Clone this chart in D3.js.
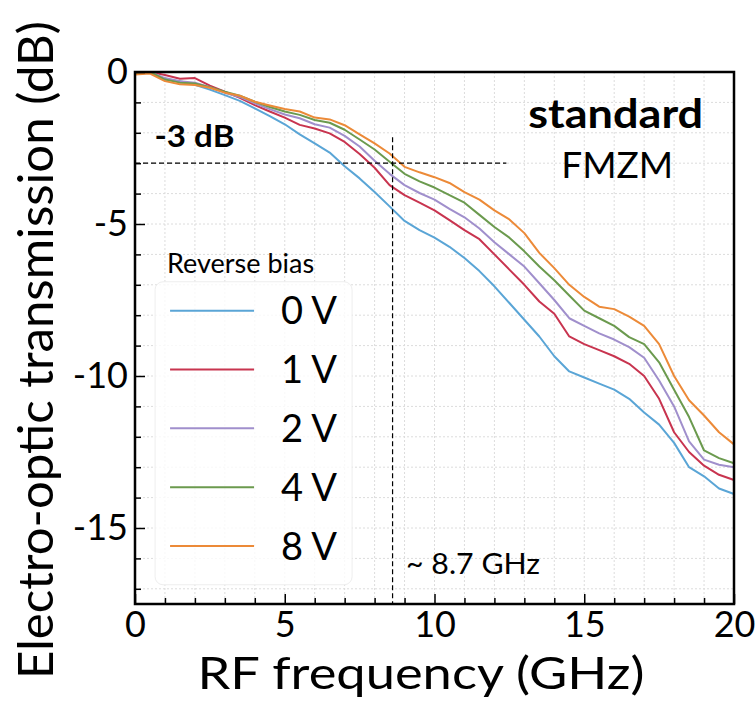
<!DOCTYPE html>
<html lang="en">
<head>
    <meta charset="UTF-8">
    <title>Electro-optic transmission</title>
    <script src="https://cdnjs.cloudflare.com/ajax/libs/d3/7.8.2/d3.min.js"></script>
    <style>
        body { margin: 0; background: #fff; }
        #chart { font-family: Lato, "Open Sans", sans-serif; }
    </style>
</head>
<body>
    <div id="chart"></div>

    <script>
        // RF frequency (GHz)
        const freq = [0, 0.5, 1, 1.5, 2, 2.5, 3, 3.5, 4, 4.5, 5, 5.5, 6, 6.5, 7, 7.5, 8, 8.5, 9, 9.5,
            10, 10.5, 11, 11.5, 12, 12.5, 13, 13.5, 14, 14.5, 15, 15.5, 16, 16.5, 17, 17.5, 18, 18.5, 19, 19.5, 20];

        // transmission (dB) per reverse bias
        const bias0V = [-0.05, 0, -0.25, -0.3, -0.42, -0.58, -0.76, -0.95, -1.2, -1.45, -1.72, -2.05, -2.35, -2.65, -3.1, -3.5, -3.95, -4.42, -4.9, -5.2,
            -5.45, -5.75, -6.12, -6.55, -7.05, -7.6, -8.15, -8.7, -9.35, -9.85, -10.05, -10.25, -10.45, -10.75, -11.2, -11.6, -12.2, -13.0, -13.3, -13.7, -13.88];
        const bias1V = [-0.05, 0, -0.1, -0.22, -0.2, -0.45, -0.65, -0.85, -1.09, -1.3, -1.5, -1.74, -1.86, -2.02, -2.3, -2.7, -3.15, -3.72, -4.05, -4.3,
            -4.55, -4.87, -5.2, -5.5, -6.0, -6.5, -7.0, -7.55, -7.95, -8.7, -8.95, -9.15, -9.35, -9.6, -10.0, -10.75, -11.85, -12.5, -12.95, -13.25, -13.42];
        const bias2V = [-0.05, 0, -0.2, -0.3, -0.35, -0.5, -0.68, -0.82, -1.03, -1.22, -1.4, -1.52, -1.72, -1.83, -2.1, -2.45, -2.92, -3.35, -3.72, -3.98,
            -4.2, -4.5, -4.78, -5.15, -5.6, -6.0, -6.4, -6.95, -7.5, -8.1, -8.35, -8.6, -8.8, -9.05, -9.4, -10.15, -11.0, -12.15, -12.75, -12.92, -13.0];
        const bias4V = [-0.05, 0, -0.25, -0.35, -0.38, -0.5, -0.65, -0.78, -0.98, -1.15, -1.3, -1.41, -1.58, -1.67, -1.9, -2.22, -2.55, -2.95, -3.35, -3.6,
            -3.8, -4.05, -4.3, -4.7, -5.1, -5.45, -5.9, -6.4, -6.85, -7.35, -7.85, -8.1, -8.35, -8.72, -8.95, -9.55, -10.45, -11.35, -12.45, -12.7, -12.87];
        const bias8V = [-0.08, -0.05, -0.3, -0.4, -0.43, -0.52, -0.68, -0.78, -0.98, -1.1, -1.22, -1.3, -1.5, -1.56, -1.75, -2.05, -2.35, -2.68, -3.12, -3.3,
            -3.46, -3.65, -3.95, -4.2, -4.55, -4.85, -5.3, -5.95, -6.45, -7.0, -7.4, -7.72, -7.8, -8.05, -8.35, -8.95, -10.0, -10.8, -11.3, -11.85, -12.25];

        const seriesNames = ["0 V", "1 V", "2 V", "4 V", "8 V"];
        const seriesValues = [bias0V, bias1V, bias2V, bias4V, bias8V];
        const seriesColors = ["#5aa5d6", "#c8344f", "#a08fcc", "#6b9a4e", "#ec8a38"];

        const xTicks = [0, 5, 10, 15, 20];
        const yTicks = [0, -5, -10, -15];
        const cutoffFreq = 8.6;

        const width = 756, height = 701;
        const margin = { top: 72, right: 22, bottom: 97, left: 135 };
        const w = width - margin.left - margin.right;
        const h = height - margin.top - margin.bottom;

        const svg = d3.select("#chart").append("svg")
            .attr("width", width)
            .attr("height", height);

        const g = svg.append("g")
            .attr("transform", `translate(${margin.left},${margin.top})`);

        const x = d3.scaleLinear().domain([0, 20]).range([0, w]);
        const y = d3.scaleLinear().domain([-17.5, 0]).range([h, 0]);

        // grid every 1 unit
        g.append("g").selectAll("line")
            .data(d3.range(1, 20))
            .enter().append("line")
            .attr("x1", d => x(d)).attr("x2", d => x(d))
            .attr("y1", 0).attr("y2", h)
            .attr("stroke", "#dcdcdc").attr("stroke-width", 1)
            .attr("stroke-dasharray", "2,2");
        g.append("g").selectAll("line")
            .data(d3.range(-17, 0))
            .enter().append("line")
            .attr("y1", d => y(d)).attr("y2", d => y(d))
            .attr("x1", 0).attr("x2", w)
            .attr("stroke", "#dcdcdc").attr("stroke-width", 1)
            .attr("stroke-dasharray", "2,2");

        // curves
        const line = d3.line()
            .x((d, i) => x(freq[i]))
            .y(d => y(d));

        g.append("g").selectAll("path")
            .data(seriesValues)
            .enter().append("path")
            .attr("d", line)
            .attr("fill", "none")
            .attr("stroke", (d, i) => seriesColors[i])
            .attr("stroke-width", 2)
            .attr("stroke-linejoin", "round");

        // -3 dB guide lines
        g.append("line")
            .attr("x1", 0).attr("x2", x(12.4))
            .attr("y1", y(-3)).attr("y2", y(-3))
            .attr("stroke", "#000").attr("stroke-width", 1.2)
            .attr("stroke-dasharray", "5,3");
        g.append("line")
            .attr("x1", x(cutoffFreq)).attr("x2", x(cutoffFreq))
            .attr("y1", y(-2.15)).attr("y2", h)
            .attr("stroke", "#000").attr("stroke-width", 1.2)
            .attr("stroke-dasharray", "5,3");

        g.append("text")
            .attr("x", x(0.65)).attr("y", y(-2.48))
            .attr("font-size", 31).attr("font-weight", "bold")
            .attr("textLength", 80).attr("lengthAdjust", "spacingAndGlyphs")
            .text("-3 dB");
        g.append("text")
            .attr("x", x(9.05)).attr("y", y(-16.5))
            .attr("font-size", 29)
            .attr("textLength", 134).attr("lengthAdjust", "spacingAndGlyphs")
            .text("~ 8.7 GHz");

        g.append("text")
            .attr("x", x(16.05)).attr("y", y(-1.85))
            .attr("text-anchor", "middle")
            .attr("font-size", 41).attr("font-weight", "bold")
            .attr("textLength", 175).attr("lengthAdjust", "spacingAndGlyphs")
            .text("standard");
        g.append("text")
            .attr("x", x(16.1)).attr("y", y(-3.5))
            .attr("text-anchor", "middle")
            .attr("font-size", 37)
            .text("FMZM");

        // legend
        const legend = g.append("g")
            .attr("transform", `translate(${x(0.67)},${y(-6.9)})`);
        legend.append("rect")
            .attr("width", 197).attr("height", 303)
            .attr("rx", 8)
            .attr("fill", "#fff").attr("fill-opacity", 0.8)
            .attr("stroke", "#eeeeee");
        svg.append("text")
            .attr("x", margin.left + x(1.07)).attr("y", margin.top + y(-6.6))
            .attr("font-size", 27)
            .text("Reverse bias");
        const items = legend.selectAll("g.item")
            .data(seriesNames)
            .enter().append("g")
            .attr("transform", (d, i) => `translate(0,${29 + i * 58.8})`);
        items.append("line")
            .attr("x1", 15).attr("x2", 99)
            .attr("stroke", (d, i) => seriesColors[i])
            .attr("stroke-width", 2);
        items.append("text")
            .attr("x", 182).attr("dy", "0.36em")
            .attr("text-anchor", "end")
            .attr("font-size", 38)
            .text(d => d);

        // axes: major + minor ticks pointing inward
        const fmt = d => String(d);
        g.append("g")
            .attr("transform", `translate(0,${h})`)
            .call(d3.axisBottom(x).tickValues(xTicks).tickFormat(fmt).tickSizeInner(-10).tickSizeOuter(0).tickPadding(7));
        g.append("g")
            .attr("transform", `translate(0,${h})`)
            .call(d3.axisBottom(x).tickValues(d3.range(1, 20).filter(d => d % 5)).tickFormat("").tickSizeInner(-6).tickSizeOuter(0));
        g.append("g")
            .call(d3.axisLeft(y).tickValues(yTicks).tickFormat(fmt).tickSizeInner(-10).tickSizeOuter(0).tickPadding(7));
        g.append("g")
            .call(d3.axisLeft(y).tickValues(d3.range(-17, 0).filter(d => d % 5)).tickFormat("").tickSizeInner(-6).tickSizeOuter(0));

        g.selectAll(".tick line").attr("stroke", "#000").attr("stroke-width", 1.5);
        g.selectAll(".domain").remove();
        g.selectAll(".tick text")
            .attr("font-family", "Lato, sans-serif")
            .attr("font-size", 36)
            .attr("fill", "#000");

        // frame
        g.append("rect")
            .attr("width", w).attr("height", h)
            .attr("fill", "none")
            .attr("stroke", "#000").attr("stroke-width", 2.5);

        // axis titles
        svg.append("text")
            .attr("x", 421).attr("y", 689)
            .attr("text-anchor", "middle")
            .attr("font-size", 45)
            .attr("textLength", 447).attr("lengthAdjust", "spacingAndGlyphs")
            .text("RF frequency (GHz)");
        svg.append("text")
            .attr("transform", "rotate(-90)")
            .attr("x", -350).attr("y", 53)
            .attr("text-anchor", "middle")
            .attr("font-size", 49)
            .attr("textLength", 658).attr("lengthAdjust", "spacingAndGlyphs")
            .text("Electro-optic transmission (dB)");
    </script>
</body>
</html>
